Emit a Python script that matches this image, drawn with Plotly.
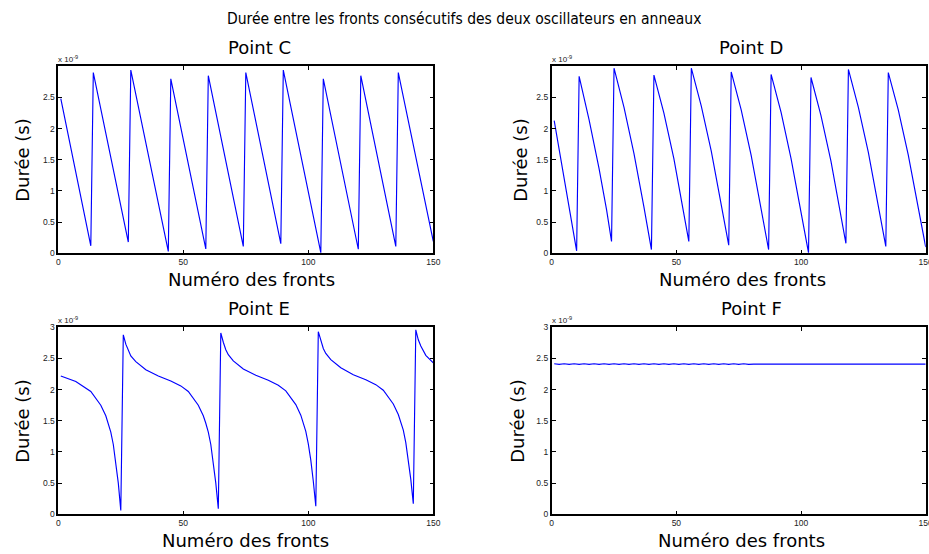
import plotly.graph_objects as go

# ---------------- data (durations in units of 1e-9 s) ----------------
X_TICKS = [0, 50, 100, 150]
Y_TICKS_TOP = [0, 0.5, 1, 1.5, 2, 2.5]
Y_TICKS_BOTTOM = [0, 0.5, 1, 1.5, 2, 2.5, 3]

C_x = [1, 13, 14, 28, 29, 44, 45, 59, 60, 74, 75, 89, 90, 105, 106, 120, 121, 135, 136, 150]
C_y = [2.48, 0.12, 2.90, 0.18, 2.94, 0.03, 2.80, 0.07, 2.85, 0.11, 2.90, 0.155, 2.94, 0.01,
       2.80, 0.065, 2.85, 0.11, 2.90, 0.19]

D_x = [1, 10,
       11, 15, 19, 22, 24,
       25, 29, 33, 37, 40,
       41, 45, 49, 53, 55,
       56, 60, 64, 68, 71,
       72, 76, 80, 84, 87,
       88, 92, 96, 100, 103,
       104, 108, 112, 116, 118,
       119, 123, 127, 131, 134,
       135, 139, 143, 147, 150]
D_y = [2.13, 0.04,
       2.84, 2.14, 1.36, 0.70, 0.19,
       2.97, 2.34, 1.60, 0.74, 0.06,
       2.86, 2.25, 1.52, 0.67, 0.19,
       2.97, 2.36, 1.64, 0.80, 0.13,
       2.91, 2.30, 1.57, 0.73, 0.06,
       2.87, 2.26, 1.52, 0.68, 0.01,
       2.82, 2.21, 1.48, 0.64, 0.16,
       2.95, 2.34, 1.62, 0.78, 0.11,
       2.90, 2.30, 1.58, 0.76, 0.10]

E_x = [1, 7, 13, 17, 19, 20, 21, 22, 23, 24, 25,
       26, 27, 28, 29, 31, 35, 40, 45, 49, 52, 56, 58, 59, 60, 61, 62, 63, 64,
       65, 66, 67, 68, 70, 74, 79, 84, 88, 91, 95, 97, 98, 99, 100, 101, 102, 103,
       104, 105, 106, 107, 109, 113, 118, 123, 127, 130, 134, 136, 137, 138, 139, 140, 141, 142,
       143, 144, 145, 147, 150]
E_y = [2.22, 2.13, 1.97, 1.75, 1.58, 1.46, 1.32, 1.12, 0.85, 0.50, 0.06,
       2.88, 2.73, 2.62, 2.54, 2.45, 2.32, 2.22, 2.14, 2.06, 1.97, 1.75, 1.58, 1.46, 1.32, 1.12, 0.85, 0.50, 0.09,
       2.91, 2.76, 2.64, 2.56, 2.46, 2.33, 2.23, 2.15, 2.07, 1.98, 1.76, 1.59, 1.47, 1.33, 1.13, 0.87, 0.53, 0.13,
       2.93, 2.78, 2.66, 2.58, 2.48, 2.35, 2.24, 2.16, 2.08, 1.99, 1.77, 1.60, 1.48, 1.35, 1.15, 0.89, 0.56, 0.17,
       2.96, 2.80, 2.70, 2.55, 2.43]

F_x = [1, 3, 5, 7, 9, 11, 13, 15, 17, 19, 21, 23, 25, 27, 29, 31, 33, 35, 37, 39,
       41, 43, 45, 47, 49, 51, 53, 55, 57, 59, 61, 63, 65, 67, 69, 71, 73, 75, 77, 79,
       81, 150]
F_y = [2.415, 2.405, 2.415, 2.405, 2.415, 2.405, 2.415, 2.405, 2.415, 2.405,
       2.415, 2.405, 2.415, 2.405, 2.415, 2.405, 2.415, 2.405, 2.415, 2.405,
       2.415, 2.405, 2.415, 2.405, 2.415, 2.405, 2.415, 2.405, 2.415, 2.405,
       2.415, 2.405, 2.415, 2.405, 2.415, 2.405, 2.415, 2.405, 2.415, 2.405,
       2.41, 2.41]

TITLE = "Durée entre les fronts consécutifs des deux oscillateurs en anneaux"
PANEL_TITLES = ["Point C", "Point D", "Point E", "Point F"]
X_TITLE = "Numéro des fronts"
Y_TITLE = "Durée (s)"
EXPONENT = "x 10<sup>-9</sup>"

# ---------------- layout geometry (pixels) ----------------
W, H = 929, 554
cols = [(58.3, 433.3), (551.7, 925.7)]
rows = [(66.3, 253.3), (327.3, 514.3)]

def px_x(p):
    return p / W

def px_y(p):
    return 1 - p / H

series = [(C_x, C_y), (D_x, D_y), (E_x, E_y), (F_x, F_y)]
fig = go.Figure()

TITLE_FONT = "DejaVu Sans"
MAIN_FONT = "DejaVu Sans Condensed, DejaVu Sans"
annotations = []
layout = dict(width=W, height=H, margin=dict(l=0, r=0, t=0, b=0, autoexpand=False),
              paper_bgcolor="white", plot_bgcolor="white", showlegend=False)

title_cx = [259, 751]
xtitle_cx = [[251.5, 742], [245, 741.5]]
ytitle_cx = [[23, 521], [23, 518]]

for i, (xs, ys) in enumerate(series):
    r, c = divmod(i, 2)
    n = "" if i == 0 else str(i + 1)
    fig.add_trace(go.Scatter(x=xs, y=ys, mode="lines",
                             line=dict(color="#0000ff", width=1.15),
                             xaxis="x" + n, yaxis="y" + n, hoverinfo="skip"))
    x0, x1 = cols[c]
    y0, y1 = rows[r]
    common = dict(showline=True, linecolor="black", linewidth=1.6, mirror="ticks",
                  ticks="inside", ticklen=4, tickcolor="black", tickwidth=1,
                  showgrid=False, zeroline=False, automargin=False,
                  ticklabeloverflow="allow",
                  tickfont=dict(family="Liberation Sans", size=8.5, color="#222222"))
    layout["xaxis" + n] = dict(domain=[px_x(x0), px_x(x1)], range=[0, 150],
                               tickvals=X_TICKS, anchor="y" + n, fixedrange=True, **common)
    layout["yaxis" + n] = dict(domain=[px_y(y1), px_y(y0)], range=[0, 3],
                               tickvals=Y_TICKS_TOP if r == 0 else Y_TICKS_BOTTOM,
                               anchor="x" + n, fixedrange=True, **common)
    annotations.append(dict(text=PANEL_TITLES[i], x=px_x(title_cx[c]), y=px_y(y0 - 19),
                            xref="paper", yref="paper", showarrow=False,
                            xanchor="center", yanchor="middle",
                            font=dict(family=TITLE_FONT, size=18, color="black")))
    annotations.append(dict(text=X_TITLE, x=px_x(xtitle_cx[r][c]), y=px_y(y1 + 26),
                            xref="paper", yref="paper", showarrow=False,
                            xanchor="center", yanchor="middle",
                            font=dict(family=TITLE_FONT, size=18, color="black")))
    annotations.append(dict(text=Y_TITLE, x=px_x(ytitle_cx[r][c]), y=px_y((y0 + y1) / 2),
                            xref="paper", yref="paper", showarrow=False, textangle=-90,
                            xanchor="center", yanchor="middle",
                            font=dict(family=TITLE_FONT, size=18, color="black")))
    annotations.append(dict(text=EXPONENT, x=px_x(x0 - 1), y=px_y(y0 - 1),
                            xref="paper", yref="paper", showarrow=False,
                            xanchor="left", yanchor="bottom", borderpad=0,
                            font=dict(family="Liberation Sans", size=8, color="#222222")))

annotations.append(dict(text=TITLE, x=px_x(464), y=px_y(19), xref="paper", yref="paper",
                        showarrow=False, xanchor="center", yanchor="middle",
                        font=dict(family=MAIN_FONT, size=15.5, color="black")))
layout["annotations"] = annotations
fig.update_layout(**layout)
fig.write_html(
    "out.html", config={"displayModeBar": False},
    post_script=("document.documentElement.style.margin='0';"
                 "document.documentElement.style.overflow='hidden';"
                 "document.body.style.margin='0';document.body.style.padding='0';"
                 "document.body.style.overflow='hidden';"))
